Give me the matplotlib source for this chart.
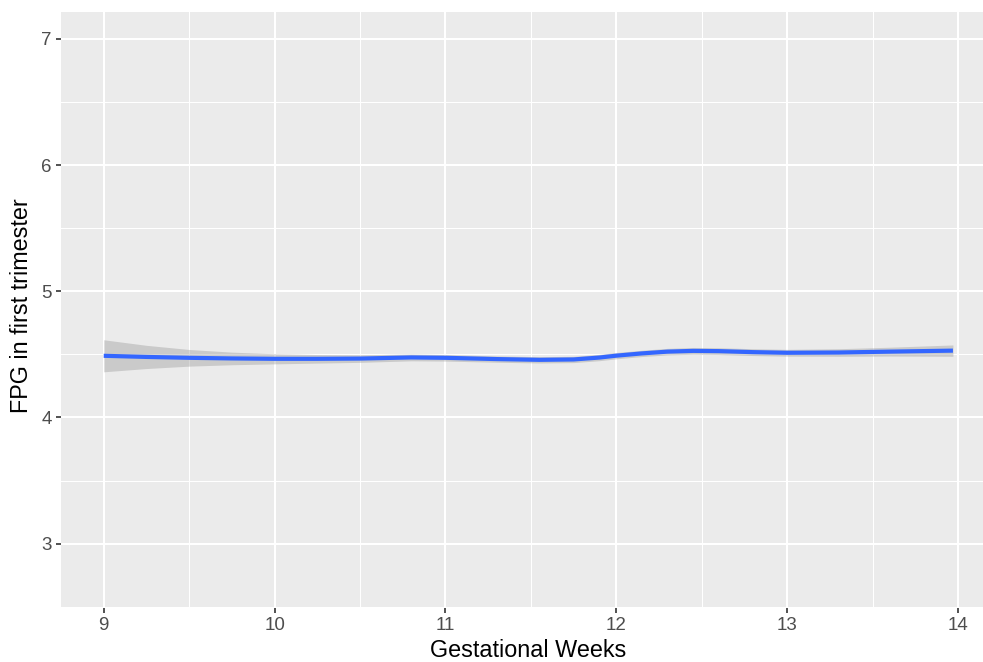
import matplotlib
matplotlib.use("Agg")
import matplotlib.pyplot as plt
import numpy as np

# smoothed fit (loess-like curve)
weeks = [9.0, 9.25, 9.5, 9.75, 10.0, 10.25, 10.5, 10.8, 11.0, 11.3, 11.55, 11.75, 11.9, 12.0, 12.15, 12.3, 12.45, 12.6, 12.8, 13.0, 13.3, 13.6, 13.97]
fpg = [4.489, 4.480, 4.473, 4.468, 4.465, 4.465, 4.467, 4.476, 4.473, 4.463, 4.457, 4.460, 4.475, 4.490, 4.508, 4.522, 4.528, 4.526, 4.518, 4.513, 4.515, 4.522, 4.530]
se_half = [0.127, 0.092, 0.066, 0.050, 0.040, 0.034, 0.030, 0.027, 0.026, 0.025, 0.025, 0.025, 0.025, 0.025, 0.025, 0.026, 0.027, 0.027, 0.027, 0.027, 0.030, 0.035, 0.045]

x_ticks = [9, 10, 11, 12, 13, 14]
y_ticks = [3, 4, 5, 6, 7]

plt.rcParams["font.family"] = ["Liberation Sans", "DejaVu Sans"]

fig = plt.figure(figsize=(9.83, 6.62), dpi=100)
ax = fig.add_axes([61 / 983, 1 - 608 / 662, 922 / 983, 596 / 662])
ax.set_facecolor("#EBEBEB")
for s in ax.spines.values():
    s.set_visible(False)

ax.set_xlim(8.75, 14.146)
ax.set_ylim(2.49, 7.214)
ax.set_xticks(x_ticks)
ax.set_yticks(y_ticks)
ax.set_xticks([x + 0.5 for x in x_ticks[:-1]], minor=True)
ax.set_yticks([y + 0.5 for y in [2] + y_ticks[:-1]], minor=True)
ax.grid(which="major", color="white", linewidth=1.5)
ax.grid(which="minor", color="white", linewidth=0.75)
ax.set_axisbelow(True)
ax.tick_params(which="major", length=3.5, width=1.2, color="#333333",
               labelcolor="#4D4D4D", labelsize=13.5, pad=3)
ax.tick_params(which="minor", length=0)

lo = np.array(fpg) - np.array(se_half)
hi = np.array(fpg) + np.array(se_half)
ax.fill_between(weeks, lo, hi, color="#999999", alpha=0.4, linewidth=0)
ax.plot(weeks, fpg, color="#3366FF", linewidth=3, solid_capstyle="butt",
        solid_joinstyle="round")

ax.set_xlabel("Gestational Weeks", fontsize=16.8, color="black")
ax.set_ylabel("FPG in first trimester", fontsize=16.8, color="black")
# ggplot centres the titles on the full panel, which runs past the crop on the right
ax.xaxis.set_label_coords(0.507, -0.052)
ax.yaxis.set_label_coords(-0.030, 0.508)

fig.savefig("out.png", dpi=100)
